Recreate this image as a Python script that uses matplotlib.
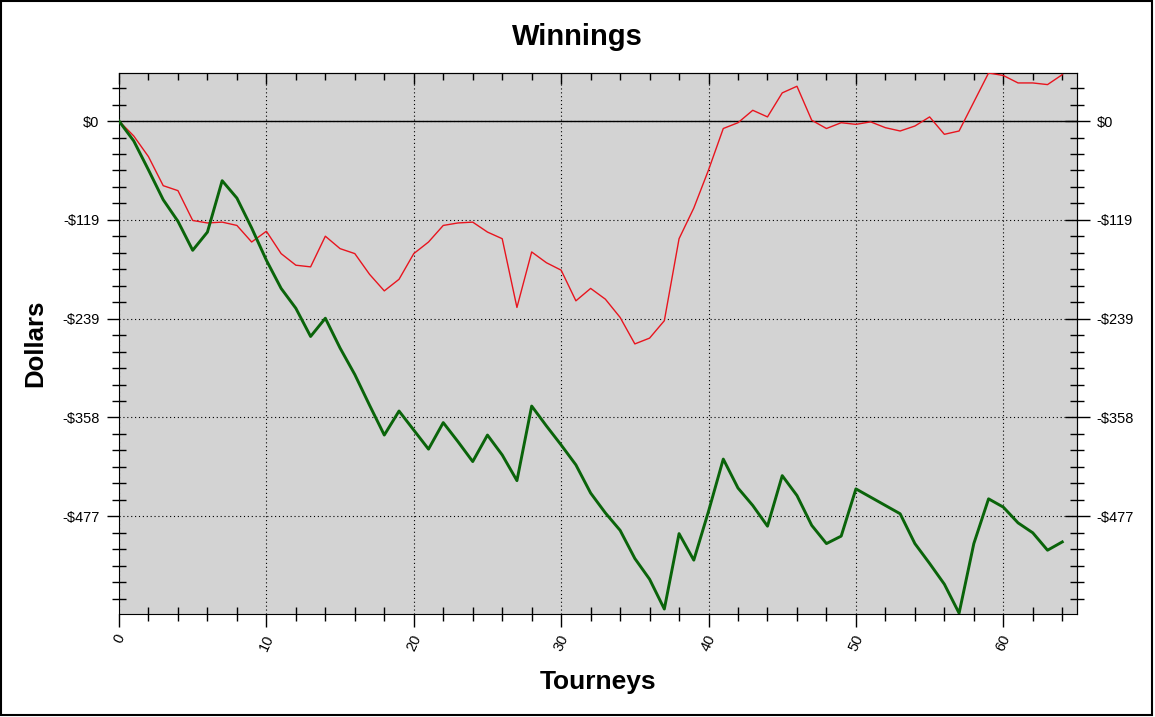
import matplotlib
matplotlib.use('Agg')
import matplotlib.pyplot as plt
from matplotlib.ticker import MultipleLocator
from matplotlib.patches import Rectangle

plt.rcParams['font.family'] = ['Liberation Sans', 'DejaVu Sans']

# dados (dolares acumulados por torneio)
tourneys = list(range(65))
green_winnings = [0, -24, -59, -95, -121, -156, -134, -72, -93, -129,
                  -168, -202, -226, -260, -238, -274, -306, -343, -379, -350,
                  -373, -396, -364, -387, -411, -379, -403, -434, -344, -368,
                  -391, -415, -449, -473, -494, -528, -553, -589, -498, -530,
                  -471, -408, -443, -464, -489, -428, -452, -488, -510, -501,
                  -444, -454, -464, -474, -510, -534, -559, -594, -510, -456,
                  -466, -485, -497, -518, -508]
red_winnings = [0, -18, -43, -78, -84, -120, -123, -122, -126, -146,
                -133, -160, -174, -176, -139, -154, -160, -185, -205, -191,
                -160, -146, -126, -123, -122, -134, -142, -225, -158, -171,
                -180, -217, -202, -215, -237, -269, -262, -241, -142, -105,
                -59, -9, -2, 13, 5, 34, 42, 1, -9, -2,
                -4, -1, -8, -12, -6, 5, -16, -12, 23, 58,
                55, 46, 46, 44, 56]
ytick_labels = ['$0', '-$119', '-$239', '-$358', '-$477']
y_step = 119.25
xtick_values = [0, 10, 20, 30, 40, 50, 60]

fig = plt.figure(figsize=(11.55, 7.17), dpi=100)
ax = fig.add_axes([119/1155, 1 - 614/717, 958/1155, 541/717])
ax.set_facecolor('#d3d3d3')

ax.plot(tourneys, red_winnings, color='#e8141e', linewidth=1, zorder=3)
ax.plot(tourneys, green_winnings, color='#0a640a', linewidth=2.1, zorder=4)
ax.axhline(0, color='black', linewidth=1, zorder=2)

ax.set_xlim(0, 65)
ax.set_ylim(-595, 58)

yticks = [-i * y_step for i in range(len(ytick_labels))]
ax.set_yticks(yticks)
ax.set_yticklabels(ytick_labels)
ax.yaxis.set_minor_locator(MultipleLocator(y_step / 6))
ax.set_xticks(xtick_values)
ax.xaxis.set_minor_locator(MultipleLocator(2))

ax.grid(True, which='major', color='black', linestyle=(0, (1, 2.5)), linewidth=0.8)
ax.set_axisbelow(True)

ax.tick_params(axis='y', which='major', direction='out', length=9, width=1,
               labelsize=10.5, pad=5, right=False)
ax.tick_params(axis='y', which='minor', direction='inout', length=10, width=1, right=False)
ax.tick_params(axis='x', which='major', direction='out', length=9, width=1,
               labelsize=10.5, pad=4, top=False)
ax.tick_params(axis='x', which='minor', direction='inout', length=10, width=1, top=False)
for lab in ax.get_xticklabels():
    lab.set_rotation(65)
    lab.set_ha('center')
    lab.set_va('top')

# eixo direito com os mesmos rotulos
sec_y = ax.secondary_yaxis('right')
sec_y.set_yticks(yticks)
sec_y.set_yticklabels(ytick_labels)
sec_y.yaxis.set_minor_locator(MultipleLocator(y_step / 6))
sec_y.tick_params(which='major', direction='inout', length=18, width=1, labelsize=10.5, pad=5)
sec_y.tick_params(which='minor', direction='inout', length=10, width=1)

# eixo de cima so com marcas
sec_x = ax.secondary_xaxis('top')
sec_x.set_xticks(xtick_values)
sec_x.xaxis.set_minor_locator(MultipleLocator(2))
sec_x.tick_params(which='major', direction='in', length=8, width=1, labeltop=False)
sec_x.tick_params(which='minor', direction='in', length=5, width=1)

ax.set_xlabel('Tourneys', fontsize=19, fontweight='bold')
ax.xaxis.set_label_coords(0.5, -(682 - 614) / 541)
ax.xaxis.label.set_va('center')
ax.set_ylabel('Dollars', fontsize=18.5, fontweight='bold')
ax.yaxis.set_label_coords((35 - 119) / 958, 0.5)
ax.yaxis.label.set_va('center')

fig.text(0.5, 1 - 37/717, 'Winnings', ha='center', va='center',
         fontsize=21, fontweight='bold')

# moldura da figura
fig.add_artist(Rectangle((1/1155, 2/717), 1151/1155, 714/717, transform=fig.transFigure,
                         fill=False, edgecolor='black', linewidth=1.5))

fig.savefig('out.png', dpi=100)
